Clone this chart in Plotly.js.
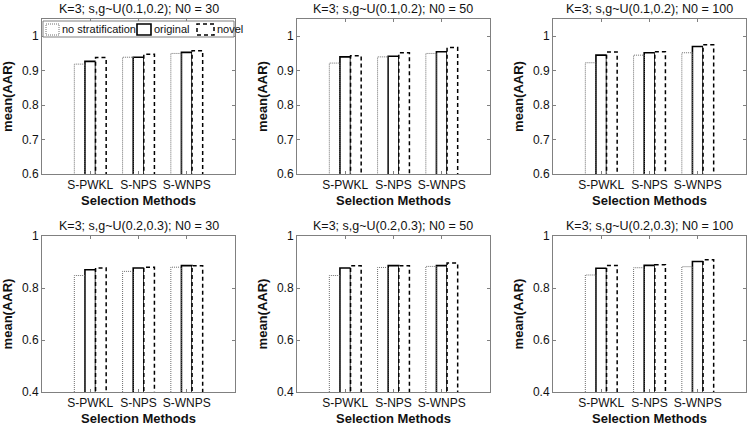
<!DOCTYPE html>
<html>
<head>
<meta charset="utf-8">
<script src="https://cdn.plot.ly/plotly-3.0.1.min.js"></script>
<style>html,body{margin:0;padding:0;background:#fff;}#chart{width:750px;height:428px;}</style>
</head>
<body>
<div id="chart"></div>
<script>
// ---- data ----
var methods = ['S-PWKL', 'S-NPS', 'S-WNPS'];
var panelTitles = [
  'K=3; s,g~U(0.1,0.2); N0 = 30',
  'K=3; s,g~U(0.1,0.2); N0 = 50',
  'K=3; s,g~U(0.1,0.2); N0 = 100',
  'K=3; s,g~U(0.2,0.3); N0 = 30',
  'K=3; s,g~U(0.2,0.3); N0 = 50',
  'K=3; s,g~U(0.2,0.3); N0 = 100'
];
var seriesNames = ['no stratification', 'original', 'novel'];
var noStrat = [
  [0.919, 0.939, 0.950],
  [0.922, 0.940, 0.950],
  [0.923, 0.945, 0.952],
  [0.848, 0.864, 0.880],
  [0.848, 0.879, 0.883],
  [0.850, 0.878, 0.882]
];
var original = [
  [0.927, 0.939, 0.953],
  [0.940, 0.942, 0.955],
  [0.945, 0.952, 0.970],
  [0.870, 0.877, 0.886],
  [0.877, 0.886, 0.886],
  [0.876, 0.887, 0.902]
];
var novel = [
  [0.938, 0.948, 0.958],
  [0.943, 0.952, 0.967],
  [0.954, 0.955, 0.975],
  [0.877, 0.880, 0.886],
  [0.886, 0.886, 0.896],
  [0.887, 0.889, 0.909]
];
var topTickVals = [0.6, 0.7, 0.8, 0.9, 1];
var topTickText = ['0.6', '0.7', '0.8', '0.9', '1'];
var botTickVals = [0.4, 0.6, 0.8, 1];
var botTickText = ['0.4', '0.6', '0.8', '1'];

// ---- layout helpers ----
var W = 750, H = 428;
function px(x) { return x / W; }
function py(y) { return 1 - y / H; }
var cols = [[42, 235], [297, 490], [553, 746]];
var rows = [[19, 174], [236, 392]];
var BW = 0.22;
var offs = [-0.33, -0.11, 0.11];
var FONT = 'Liberation Sans, Arial, sans-serif';
var TXT = '#111';
var AX = '#808080';

var xCat = methods.map(function (m, i) { return i + 1; });

function outline(vals, off) {
  var xs = [], ys = [];
  vals.forEach(function (v, i) {
    var x0 = xCat[i] + off, x1 = x0 + BW;
    xs.push(x0, x0, x1, x1, null);
    ys.push(0, v, v, 0, null);
  });
  return { x: xs, y: ys };
}

var data = [];
var layout = {
  width: W, height: H,
  margin: { l: 0, r: 0, t: 0, b: 0 },
  paper_bgcolor: '#fff', plot_bgcolor: '#fff',
  showlegend: false,
  barmode: 'overlay',
  font: { family: FONT, color: TXT, size: 12 },
  annotations: [],
  shapes: []
};

for (var k = 0; k < 6; k++) {
  var r = Math.floor(k / 3), c = k % 3;
  var xa = 'x' + (k + 1), ya = 'y' + (k + 1);
  var sets = [noStrat[k], original[k], novel[k]];
  // bar fills
  for (var s = 0; s < 3; s++) {
    data.push({
      type: 'bar', name: seriesNames[s], x: xCat, y: sets[s],
      width: BW, offset: offs[s], xaxis: xa, yaxis: ya,
      marker: { color: '#fff', line: { color: s === 1 ? '#000' : '#fff', width: s === 1 ? 1.6 : 0 } },
      hoverinfo: 'y'
    });
  }
  // dotted outline (no stratification)
  var o0 = outline(noStrat[k], offs[0]);
  data.push({
    type: 'scatter', mode: 'lines', x: o0.x, y: o0.y, xaxis: xa, yaxis: ya,
    line: { color: '#6e6e6e', width: 1, dash: '1px,1px' }, hoverinfo: 'skip', name: seriesNames[0]
  });
  // dashed outline (novel)
  var o2 = outline(novel[k], offs[2]);
  data.push({
    type: 'scatter', mode: 'lines', x: o2.x, y: o2.y, xaxis: xa, yaxis: ya,
    line: { color: '#000', width: 1.5, dash: '4px,3px' }, hoverinfo: 'skip', name: seriesNames[2]
  });

  var axKey = k === 0 ? '' : String(k + 1);
  layout['xaxis' + axKey] = {
    domain: [px(cols[c][0]), px(cols[c][1])],
    anchor: ya, range: [0, 4],
    tickvals: xCat, ticktext: methods,
    ticks: 'inside', ticklen: 3, tickcolor: AX, tickwidth: 1,
    showline: true, linecolor: AX, linewidth: 1, mirror: 'ticks',
    showgrid: false, zeroline: false,
    tickfont: { size: 12, color: TXT, family: FONT },
    title: { text: 'Selection Methods', font: { size: 13, weight: 'bold', color: TXT, family: FONT }, standoff: 4 }
  };
  layout['yaxis' + axKey] = {
    domain: [py(rows[r][1]), py(rows[r][0])],
    anchor: xa,
    range: r === 0 ? [0.6, 1.05] : [0.4, 1.0],
    tickvals: r === 0 ? topTickVals : botTickVals,
    ticktext: r === 0 ? topTickText : botTickText,
    ticks: 'inside', ticklen: 3, tickcolor: AX, tickwidth: 1,
    showline: true, linecolor: AX, linewidth: 1, mirror: 'ticks',
    showgrid: false, zeroline: false,
    tickfont: { size: 12, color: TXT, family: FONT },
    title: { text: 'mean(AAR)', font: { size: 13, weight: 'bold', color: TXT, family: FONT }, standoff: 6 }
  };
  layout.annotations.push({
    xref: 'paper', yref: 'paper',
    x: px((cols[c][0] + cols[c][1]) / 2), y: py(rows[r][0]),
    xanchor: 'center', yanchor: 'bottom', yshift: 1,
    text: panelTitles[k], showarrow: false,
    font: { size: 12.5, color: TXT, family: FONT }
  });
}

// ---- legend (drawn in the first panel, MATLAB style) ----
var lg = { x0: 43, x1: 234, y0: 21, y1: 37 };
layout.shapes.push({
  type: 'rect', xref: 'paper', yref: 'paper',
  x0: px(lg.x0), x1: px(lg.x1), y0: py(lg.y1), y1: py(lg.y0),
  line: { color: AX, width: 1 }, fillcolor: '#fff', layer: 'above'
});
var iconX = [46, 137, 197];
var iconW = [13, 14, 17];
var iconStyle = [
  { color: '#6e6e6e', width: 1, dash: '1px,1px' },
  { color: '#000', width: 1.6, dash: 'solid' },
  { color: '#000', width: 1.5, dash: '4px,3px' }
];
for (var s2 = 0; s2 < 3; s2++) {
  layout.shapes.push({
    type: 'rect', xref: 'paper', yref: 'paper',
    x0: px(iconX[s2]), x1: px(iconX[s2] + iconW[s2]), y0: py(35), y1: py(24),
    line: iconStyle[s2], fillcolor: 'rgba(0,0,0,0)', layer: 'above'
  });
  layout.annotations.push({
    xref: 'paper', yref: 'paper',
    x: px(iconX[s2] + iconW[s2] + 1), y: py(29.5),
    xanchor: 'left', yanchor: 'middle',
    text: seriesNames[s2], showarrow: false,
    font: { size: 11, color: TXT, family: FONT }
  });
}

Plotly.newPlot('chart', data, layout, { displayModeBar: false, staticPlot: true });
</script>
</body>
</html>
